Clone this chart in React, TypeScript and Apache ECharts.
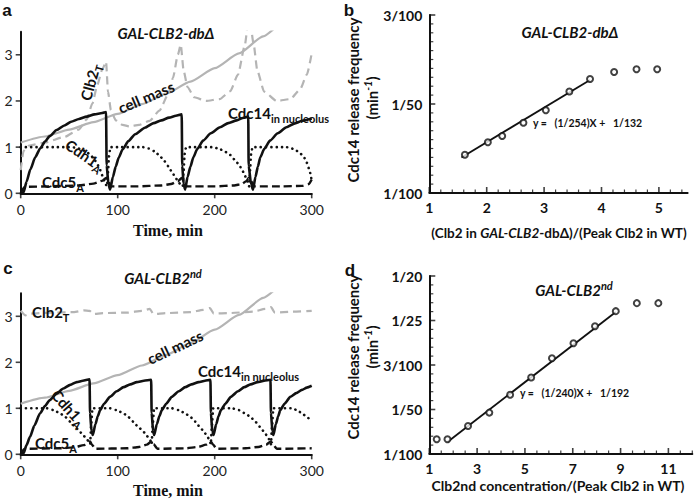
import React, { useEffect, useRef } from 'react';
import * as echarts from 'echarts';

const SANS = "Lato, 'Open Sans', sans-serif";
const SERIF = "'Liberation Serif', 'Times New Roman', serif";
const HEAD = "'Liberation Sans', Arial, sans-serif";

// ---- Panel a & c: time courses, [time (min), level] ----
const cellMass = [[0,1.10],[25,1.23],[50,1.38],[75,1.54],[100,1.72],[125,1.93],[150,2.16],[175,2.42],[200,2.71],[225,3.03],[250,3.40],[262,3.58]];

const clb2TotalA = [[0,0.5],[3,0.92],[8,1.03],[25,1.1],[45,1.22],[60,1.38],[68,1.6],[74,1.95],[79,2.35],[84,2.68],[88,2.85],[90,2.2],[93,1.8],[98,1.58],[105,1.48],[112,1.45],[122,1.48],[133,1.57],[143,1.79],[152,2.14],[157,2.5],[162,3.0],[165,3.22],[168,2.65],[172,2.3],[179,2.08],[191,2.0],[205,2.04],[216,2.21],[224,2.57],[231,3.2],[235.5,3.9],[240,3.25],[244,2.65],[251,2.2],[264,2.0],[278,2.04],[288,2.25],[295,2.57],[300,3.03]];
const cdc14A = [[0,0.0],[3,0.02],[6,0.25],[10,0.52],[15,0.78],[20,0.97],[25,1.12],[30,1.24],[37,1.37],[45,1.47],[52,1.55],[60,1.61],[68,1.66],[76,1.71],[84,1.74],[88,1.76],
  [88.6,0.6],[90.5,0.2],[92.2,0.08],
  [95,0.35],[98,0.58],[101,0.77],[105,0.95],[111,1.13],[118,1.28],[128,1.42],[137,1.52],[145,1.58],[153,1.64],[160,1.68],[166,1.71],
  [166.5,0.6],[168,0.2],[169.5,0.08],
  [172,0.35],[175,0.58],[178,0.78],[182,0.96],[188,1.14],[196,1.3],[205.5,1.43],[214,1.52],[222.7,1.58],[229,1.63],[234.6,1.66],
  [235,0.6],[237.5,0.2],[239.5,0.08],
  [242,0.35],[244.5,0.58],[247,0.78],[251,0.96],[257,1.14],[265,1.3],[274,1.43],[282,1.51],[290,1.57],[300,1.62]];
const cdh1A = [[0,1.0],[50,1.0],[56,0.99],[62,0.96],[67,0.91],[72,0.83],[76,0.73],[79,0.63],[82,0.5],[84.5,0.37],[86.5,0.26],[88,0.18],[89,0.15],[90,0.45],[91,0.8],[92.5,1.0],
  [126,1.0],[132,0.97],[138,0.91],[143,0.82],[148,0.7],[152,0.59],[156,0.46],[159.5,0.34],[163,0.23],[166,0.16],[167,0.15],[168,0.5],[169,0.85],[170.5,1.0],
  [198,1.0],[204,0.97],[210,0.91],[216,0.83],[221,0.72],[225,0.62],[228,0.52],[231,0.39],[233,0.29],[234.6,0.2],[235.5,0.15],[236.5,0.5],[237.5,0.85],[239,1.0],
  [274,1.0],[282,0.96],[288,0.87],[292,0.78],[295,0.66],[297.5,0.52],[299,0.4],[300,0.25]];
const cdc5A = [[0,0.0],[4,0.14],[30,0.15],[60,0.17],[75,0.21],[84,0.27],[88,0.33],[90,0.3],[93,0.15],[120,0.15],[145,0.17],[155,0.2],[162,0.26],[166,0.33],[168,0.3],[171,0.15],[200,0.15],[220,0.17],[228,0.2],[233,0.27],[235,0.33],[237,0.3],[240,0.15],[270,0.15],[290,0.16],[297,0.2],[300,0.3]];

const clb2TotalC = [[0,3.12],[5,3.02],[10,3.06],[30,3.08],[55,3.09],[65,3.13],[71,3.12],[75,3.05],[85,3.07],[110,3.08],[125,3.12],[133,3.16],[137,3.05],[150,3.07],[175,3.09],[188,3.14],[195,3.18],[199,3.06],[215,3.07],[240,3.1],[252,3.16],[258,3.2],[262,3.08],[280,3.1],[300,3.12]];
const cdc14C = [[0,0.0],[3,0.02],[6,0.2],[9.6,0.38],[14,0.62],[20,0.89],[25,1.05],[30,1.18],[37,1.32],[44,1.43],[51,1.51],[57.8,1.57],[64,1.6],[71,1.63],
  [71.5,0.9],[73,0.5],[74.3,0.42],
  [77,0.65],[79.5,0.83],[81.9,0.96],[86,1.1],[92,1.25],[99,1.37],[106,1.46],[113,1.52],[119.7,1.57],[127,1.6],[134.5,1.62],
  [135,0.9],[136.5,0.5],[137.6,0.42],
  [140.3,0.65],[143,0.83],[145.5,0.96],[150,1.1],[155.8,1.25],[163,1.37],[169.6,1.46],[176,1.52],[183.4,1.57],[190,1.6],[195.6,1.62],
  [196.1,0.9],[197.5,0.5],[198.8,0.42],
  [201.5,0.65],[204,0.83],[206.4,0.96],[211,1.1],[216.7,1.25],[224,1.37],[230.5,1.46],[237,1.52],[244.2,1.57],[251,1.6],[257.5,1.62],
  [258,0.9],[259.5,0.5],[260.5,0.42],
  [263,0.65],[265.5,0.83],[267.6,0.96],[272,1.1],[278,1.25],[284,1.33],[290,1.4],[295,1.45],[300,1.49]];
const cdh1C = [[0,1.0],[27,1.0],[34,0.96],[40.6,0.89],[46,0.81],[51,0.71],[56,0.6],[61,0.49],[65,0.4],[68.8,0.31],[71.6,0.22],[72.5,0.6],[74,1.0],
  [92,1.0],[99,0.96],[106,0.89],[111,0.81],[116,0.71],[121,0.6],[126.6,0.49],[130,0.4],[133.5,0.31],[135,0.22],[136,0.6],[137.5,1.0],
  [155.8,1.0],[163,0.96],[169.6,0.89],[175,0.81],[180,0.71],[184.5,0.6],[189,0.49],[192,0.4],[194.7,0.31],[196,0.22],[197,0.6],[198.5,1.0],
  [217.7,1.0],[225,0.96],[231.5,0.89],[237,0.81],[241.8,0.71],[246.5,0.6],[251,0.49],[254,0.4],[256.6,0.31],[258,0.22],[259,0.6],[260.5,1.0],
  [279.7,1.0],[285,0.96],[290,0.89],[295,0.81],[300,0.71]];
const cdc5C = [[0,0.0],[4,0.12],[40,0.13],[55,0.15],[65,0.2],[71.6,0.28],[73,0.22],[77,0.12],[110,0.13],[122,0.16],[130,0.21],[135,0.28],[137,0.22],[141,0.12],[170,0.13],[183,0.16],[191,0.21],[196,0.28],[198,0.22],[202,0.12],[232,0.13],[245,0.16],[253,0.21],[258,0.28],[260,0.22],[264,0.12],[300,0.13]];

const timeTicks = [0, 100, 200, 300];
const levelTicks = [0, 1, 2, 3];

// ---- Panel b: GAL-CLB2-dbΔ release frequency ----
const ratioB = [1.62, 2.02, 2.27, 2.64, 3.03, 3.44, 3.80, 4.22, 4.61, 4.97];
const freqB = [0.0143, 0.0157, 0.0164, 0.0179, 0.0193, 0.0214, 0.0228, 0.0236, 0.0239, 0.0239];
const fitBX = [1.56, 3.80];
const fitBY = [0.0140, 0.0227];
const freqTicksB = [0.01, 0.02, 0.03];
const freqLabelsB = ['1/100', '1/50', '3/100'];
const ratioTicksB = [1, 2, 3, 4, 5];

// ---- Panel d: GAL-CLB2nd release frequency ----
const ratioD = [1.31, 1.76, 2.62, 3.51, 4.38, 5.26, 6.13, 7.03, 7.93, 8.80, 9.68, 10.58];
const freqD = [0.0133, 0.0133, 0.0163, 0.0193, 0.0233, 0.0272, 0.0315, 0.0349, 0.0387, 0.0421, 0.0439, 0.0439];
const fitDX = [1.76, 8.80];
const fitDY = [0.0127, 0.0419];
const freqTicksD = [0.01, 0.02, 0.03, 0.04, 0.05];
const freqLabelsD = ['1/100', '1/50', '3/100', '1/25', '1/20'];
const ratioTicksD = [1, 3, 5, 7, 9, 11];

const BLACK = '#111';
const GRAY = '#b4b4b4';

function timeAxes(gridIndex: number) {
  const x = {
    type: 'value', gridIndex, min: 0, max: 300, interval: 100,
    axisLine: { show: true, lineStyle: { color: BLACK, width: 2 } },
    axisTick: { show: false },
    axisLabel: { fontFamily: SANS, fontSize: 14, color: '#222', margin: 9, customValues: timeTicks },
    splitLine: { show: false },
  };
  const y = {
    type: 'value', gridIndex, min: 0, max: 3.5, interval: 1,
    axisLine: { show: true, lineStyle: { color: BLACK, width: 2 } },
    axisTick: { show: false },
    axisLabel: { fontFamily: SANS, fontSize: 14, color: '#222', margin: 8, customValues: levelTicks },
    splitLine: { show: false },
  };
  return { x, y };
}

function freqAxes(gridIndex: number, xmax: number, xint: number, xticks: number[], yticks: number[], ylabels: string[], ymax: number) {
  const x = {
    type: 'value', gridIndex, min: 1, max: xmax, interval: xint,
    axisLine: { show: true, lineStyle: { color: BLACK, width: 2 } },
    axisTick: { show: false },
    axisLabel: { fontFamily: SANS, fontSize: 14, fontWeight: 'bold', color: BLACK, margin: 7, customValues: xticks },
    splitLine: { show: false },
  };
  const y = {
    type: 'value', gridIndex, min: 0.01, max: ymax, interval: 0.01,
    axisLine: { show: true, lineStyle: { color: BLACK, width: 2 } },
    axisTick: { show: false },
    axisLabel: {
      fontFamily: SANS, fontSize: 14, fontWeight: 'bold', color: BLACK, margin: 7, customValues: yticks,
      formatter: (v: number) => ylabels[Math.round(v * 100) - 1] ?? '',
    },
    splitLine: { show: false },
  };
  return { x, y };
}

// tick marks drawn as small rect symbols placed through the axes' scales
function tickMarks(idx: number, pts: number[][], size: number[], offset: number[]) {
  return {
    type: 'scatter', xAxisIndex: idx, yAxisIndex: idx, data: pts, symbol: 'rect',
    symbolSize: size, symbolOffset: offset, silent: true, clip: false, z: 6,
    itemStyle: { color: BLACK },
  };
}

function stepValues(from: number, step: number, count: number) {
  const out: number[] = [];
  for (let i = 0; i <= count; i++) out.push(Math.round((from + i * step) * 10000) / 10000);
  return out;
}

function line(idx: number, data: number[][], color: string, width: number, type: any, z = 2) {
  return {
    type: 'line', xAxisIndex: idx, yAxisIndex: idx, data, symbol: 'none', showSymbol: false,
    smooth: 0.2, smoothMonotone: 'x', z,
    lineStyle: { color, width, type },
  };
}

function dotted(idx: number, data: number[][]) {
  return {
    type: 'line', xAxisIndex: idx, yAxisIndex: idx, data, symbol: 'none', showSymbol: false,
    smooth: 0.2, smoothMonotone: 'x', z: 3,
    lineStyle: { color: BLACK, width: 2.6, type: [0.1, 5.2], cap: 'round' },
  };
}

const rich = (size: number) => ({
  m: { fontSize: size, fontWeight: 'bold', fontFamily: SANS, fill: BLACK, lineHeight: size + 6 },
  s: { fontSize: Math.round(size * 0.7), fontWeight: 'bold', fontFamily: SANS, fill: BLACK, lineHeight: 12, verticalAlign: 'bottom' },
  sup: { fontSize: Math.round(size * 0.7), fontWeight: 'bold', fontStyle: 'italic', fontFamily: SANS, fill: BLACK, lineHeight: 12, verticalAlign: 'top' },
  i: { fontSize: size, fontWeight: 'bold', fontStyle: 'italic', fontFamily: SANS, fill: BLACK, lineHeight: size + 6 },
});

function txt(text: string, x: number, y: number, size: number, opts: any = {}) {
  return {
    type: 'text', x, y, rotation: opts.rotation || 0, z: 50,
    style: {
      text, rich: rich(size), fill: BLACK,
      fontSize: size, fontWeight: 'bold', fontFamily: opts.font || SANS, fontStyle: opts.italic ? 'italic' : 'normal',
      align: opts.align || 'center', verticalAlign: 'middle',
    },
  };
}

export default function App() {
  const ref = useRef<HTMLDivElement>(null);
  useEffect(() => {
    const chart = echarts.init(ref.current!, null, { renderer: 'svg' });
    const A = timeAxes(0);
    const C = timeAxes(2);
    const B = freqAxes(1, 5.5, 1, ratioTicksB, freqTicksB, freqLabelsB, 0.03);
    const D = freqAxes(3, 12, 2, ratioTicksD, freqTicksD, freqLabelsD, 0.05);

    const scatter = (idx: number, xs: number[], ys: number[]) => ({
      type: 'scatter', xAxisIndex: idx, yAxisIndex: idx, z: 5,
      data: xs.map((x, i) => [x, ys[i]]), symbol: 'circle', symbolSize: 6,
      itemStyle: { color: '#fff', borderColor: BLACK, borderWidth: 2 },
    });
    const fit = (idx: number, xs: number[], ys: number[]) => ({
      type: 'line', xAxisIndex: idx, yAxisIndex: idx, z: 3, symbol: 'none',
      data: xs.map((x, i) => [x, ys[i]]), lineStyle: { color: BLACK, width: 1.8 },
    });

    const isIn = (arr: number[], v: number) => arr.some((a) => Math.abs(a - v) < 1e-6);
    // panel b ticks
    const bX = stepValues(1, 0.2, 22);
    const bY = stepValues(0.01, 0.001, 20);
    // panel d ticks
    const dX = stepValues(1, 0.5, 22);
    const dY = stepValues(0.01, 0.002, 20);

    const tickSeries: any[] = [];
    for (const idx of [0, 2]) {
      tickSeries.push(tickMarks(idx, timeTicks.map((t) => [t, 0]), [1.6, 5], [0, 2.5]));
      tickSeries.push(tickMarks(idx, levelTicks.map((v) => [0, v]), [5, 1.6], [-2.5, 0]));
    }
    tickSeries.push(tickMarks(1, bX.filter((x) => isIn(ratioTicksB, x)).map((x) => [x, 0.01]), [1.6, 6], [0, -3]));
    tickSeries.push(tickMarks(1, bX.filter((x) => !isIn(ratioTicksB, x)).map((x) => [x, 0.01]), [1.2, 3.5], [0, -1.75]));
    tickSeries.push(tickMarks(1, bY.filter((y) => isIn(freqTicksB, y)).map((y) => [1, y]), [6, 1.6], [3, 0]));
    tickSeries.push(tickMarks(1, bY.filter((y) => !isIn(freqTicksB, y)).map((y) => [1, y]), [4, 1.2], [2, 0]));
    tickSeries.push(tickMarks(3, dX.filter((x) => isIn(ratioTicksD, x)).map((x) => [x, 0.01]), [1.6, 6], [0, -3]));
    tickSeries.push(tickMarks(3, dX.filter((x) => !isIn(ratioTicksD, x)).map((x) => [x, 0.01]), [1.2, 3.5], [0, -1.75]));
    tickSeries.push(tickMarks(3, dY.filter((y) => isIn(freqTicksD, y)).map((y) => [1, y]), [6, 1.6], [3, 0]));
    tickSeries.push(tickMarks(3, dY.filter((y) => !isIn(freqTicksD, y)).map((y) => [1, y]), [4, 1.2], [2, 0]));

    const option: any = {
      animation: false,
      backgroundColor: '#fff',
      grid: [
        { left: 20.7, top: 31.7, width: 291, height: 161.6 },
        { left: 429.3, top: 15, width: 258.3, height: 178 },
        { left: 20.7, top: 293.3, width: 291, height: 161 },
        { left: 429.3, top: 276, width: 263, height: 178 },
      ],
      xAxis: [A.x, B.x, C.x, D.x],
      yAxis: [A.y, B.y, C.y, D.y],
      series: [
        line(0, cellMass, GRAY, 2.2, 'solid'),
        line(0, clb2TotalA, GRAY, 2.2, [8, 5]),
        dotted(0, cdh1A),
        line(0, cdc5A, BLACK, 2.4, [8, 4], 3),
        line(0, cdc14A, BLACK, 2.6, 'solid', 4),

        line(2, cellMass, GRAY, 2.2, 'solid'),
        line(2, clb2TotalC, GRAY, 2.2, [8, 5]),
        dotted(2, cdh1C),
        line(2, cdc5C, BLACK, 2.4, [8, 4], 3),
        line(2, cdc14C, BLACK, 2.6, 'solid', 4),

        fit(1, fitBX, fitBY),
        scatter(1, ratioB, freqB),
        fit(3, fitDX, fitDY),
        scatter(3, ratioD, freqD),
        ...tickSeries,
      ],
      graphic: [
        // panel letters
        txt('a', 7, 10, 17, { font: HEAD }),
        txt('b', 349, 10, 17, { font: HEAD }),
        txt('c', 8, 268, 17, { font: HEAD }),
        txt('d', 350, 270, 17, { font: HEAD }),
        // panel a labels
        txt('GAL-CLB2-dbΔ', 166, 33, 15, { italic: true }),
        txt('{m|Clb2}{s|T}', 90, 82, 15, { rotation: 1.3 }),
        txt('{m|cell mass}', 146, 97, 15, { rotation: 0.4 }),
        txt('{m|Cdc14}{s|in nucleolus}', 228, 113, 15, { align: 'left' }),
        txt('{m|Cdh1}{s|A}', 85, 155, 15, { rotation: -0.6 }),
        txt('{m|Cdc5}{s|A}', 42, 182, 15, { align: 'left' }),
        txt('Time, min', 168, 230, 16, { font: SERIF }),
        // panel c labels
        txt('{i|GAL-CLB2}{sup|nd}', 163, 278, 15),
        txt('{m|Clb2}{s|T}', 32, 312, 15, { align: 'left' }),
        txt('{m|cell mass}', 175, 347, 15, { rotation: 0.44 }),
        txt('{m|Cdc14}{s|in nucleolus}', 198, 371, 15, { align: 'left' }),
        txt('{m|Cdh1}{s|A}', 69, 408, 15, { rotation: -0.85 }),
        txt('{m|Cdc5}{s|A}', 35, 443, 15, { align: 'left' }),
        txt('Time, min', 168, 490, 16, { font: SERIF }),
        // panel b labels
        txt('GAL-CLB2-dbΔ', 570, 32, 15, { italic: true }),
        txt('y =   (1/254)X +   1/132', 533, 123, 10.5, { align: 'left' }),
        txt('Cdc14 release frequency', 353, 100, 15, { rotation: Math.PI / 2 }),
        txt('{m|(min}{sup|-1}{m|)}', 372, 98, 15, { rotation: Math.PI / 2 }),
        txt('{m|(Clb2 in }{i|GAL-CLB2}{m|-dbΔ)/(Peak Clb2 in WT)}', 559, 233, 13.5),
        // panel d labels
        txt('{i|GAL-CLB2}{sup|nd}', 574, 290, 15),
        txt('y =   (1/240)X +   1/192', 520, 393, 10.5, { align: 'left' }),
        txt('Cdc14 release frequency', 353, 357, 15, { rotation: Math.PI / 2 }),
        txt('{m|(min}{sup|-1}{m|)}', 372, 347, 15, { rotation: Math.PI / 2 }),
        txt('Clb2nd concentration/(Peak Clb2 in WT)', 558, 485, 14),
      ],
    };
    chart.setOption(option);
    return () => chart.dispose();
  }, []);
  return <div ref={ref} style={{ position: 'fixed', left: 0, top: 0, width: 697, height: 502, background: '#fff' }} />;
}
